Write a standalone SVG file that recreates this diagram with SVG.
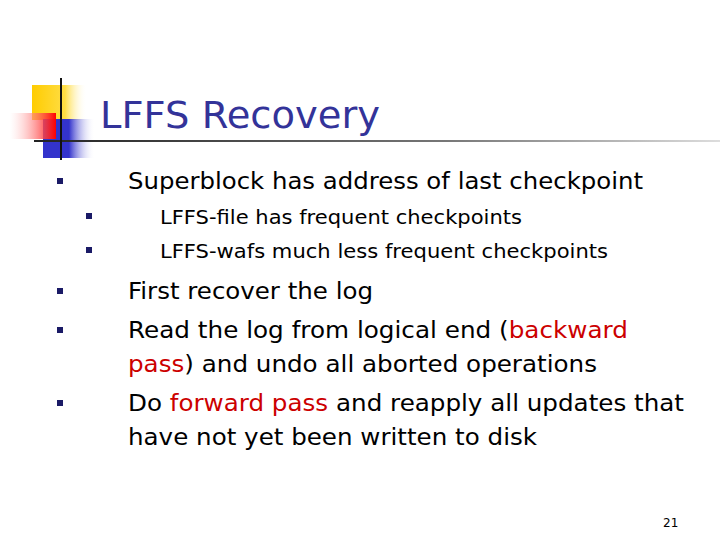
<svg xmlns="http://www.w3.org/2000/svg" width="720" height="540" viewBox="0 0 720 540">
<defs>
<linearGradient id="y" x1="0" x2="1"><stop offset="0" stop-color="#ffcc00"/><stop offset="0.6" stop-color="#ffdd44"/><stop offset="1" stop-color="#fff" stop-opacity="0"/></linearGradient>
<linearGradient id="b" x1="0" x2="1"><stop offset="0" stop-color="#3333cc"/><stop offset="0.5" stop-color="#3333cc"/><stop offset="1" stop-color="#fff" stop-opacity="0"/></linearGradient>
<linearGradient id="r" x1="0" x2="1"><stop offset="0" stop-color="#fff" stop-opacity="0.3"/><stop offset="1" stop-color="#ff0000"/></linearGradient>
<linearGradient id="l" x1="0" x2="1"><stop offset="0" stop-color="#222"/><stop offset="0.6" stop-color="#777"/><stop offset="1" stop-color="#ddd"/></linearGradient>
<style>
.t{font-family:"DejaVu Sans",Verdana,sans-serif;fill:#000}
.b1{font-size:23px}.b2{font-size:19px}
.red{fill:#cc0000}
.bul{fill:#1a1a66}
</style>
</defs>
<g id="logo">
<rect x="32" y="85" width="55" height="35" fill="url(#y)"/>
<rect x="43" y="119" width="52" height="39" fill="url(#b)"/>
<rect x="10" y="113" width="46" height="26" fill="url(#r)"/>
<rect x="34" y="140" width="686" height="2" fill="url(#l)"/>
<rect x="60" y="78" width="2" height="82" fill="#111"/>
</g>
<text x="100" y="128" style="font-family:'DejaVu Sans',Verdana,sans-serif;font-size:38px;fill:#333399" textLength="280" lengthAdjust="spacingAndGlyphs">LFFS Recovery</text>
<g id="bullets" class="bul">
<rect x="57" y="178" width="6" height="6"/>
<rect x="86" y="213" width="6" height="6"/>
<rect x="86" y="247" width="6" height="6"/>
<rect x="57" y="288" width="6" height="6"/>
<rect x="57" y="327" width="6" height="6"/>
<rect x="57" y="400" width="6" height="6"/>
</g>
<g id="text" class="t" lengthAdjust="spacingAndGlyphs">
<text class="b1" x="128" y="189" textLength="515" lengthAdjust="spacingAndGlyphs">Superblock has address of last checkpoint</text>
<text class="b2" x="160" y="224" textLength="362" lengthAdjust="spacingAndGlyphs">LFFS-file has frequent checkpoints</text>
<text class="b2" x="160" y="258" textLength="448" lengthAdjust="spacingAndGlyphs">LFFS-wafs much less frequent checkpoints</text>
<text class="b1" x="128" y="299" textLength="245" lengthAdjust="spacingAndGlyphs">First recover the log</text>
<text class="b1" x="128" y="338" textLength="500" lengthAdjust="spacingAndGlyphs">Read the log from logical end (<tspan class="red">backward</tspan></text>
<text class="b1" x="128" y="372" textLength="469" lengthAdjust="spacingAndGlyphs"><tspan class="red">pass</tspan>) and undo all aborted operations</text>
<text class="b1" x="128" y="411" textLength="556" lengthAdjust="spacingAndGlyphs">Do <tspan class="red">forward pass</tspan> and reapply all updates that</text>
<text class="b1" x="128" y="445" textLength="409" lengthAdjust="spacingAndGlyphs">have not yet been written to disk</text>
<text x="663" y="527" style="font-size:12px">21</text>
</g>
</svg>
